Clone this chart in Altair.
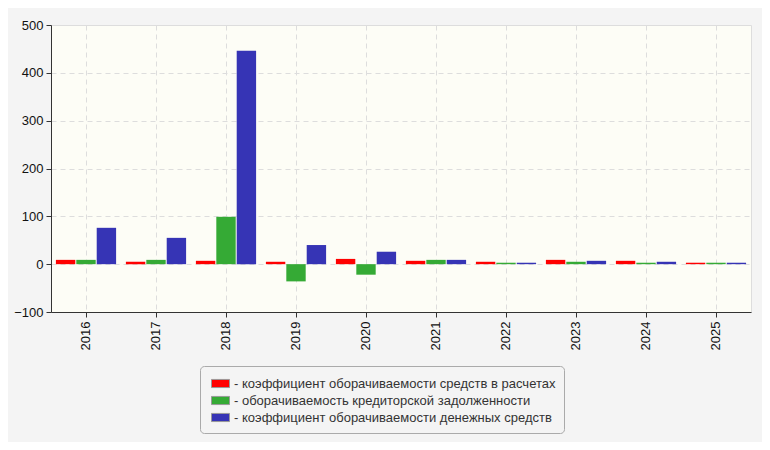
import altair as alt
import pandas as pd

years = ["2016", "2017", "2018", "2019", "2020", "2021", "2022", "2023", "2024", "2025"]
series = [
    "коэффициент оборачиваемости средств в расчетах",
    "оборачиваемость кредиторской задолженности",
    "коэффициент оборачиваемости денежных средств",
]
colors = ["#ff0000", "#35aa35", "#3634b5"]
s_red = [9, 5, 7, 5, 11, 7, 5, 9, 7, 3]
s_green = [9, 9, 99, -36, -22, 9, 3, 5, 3, 3]
s_blue = [76, 55, 446, 40, 26, 9, 3, 7, 5, 3]

rows = []
for name, vals in zip(series, [s_red, s_green, s_blue]):
    for y, v in zip(years, vals):
        rows.append({"year": y, "series": name, "value": v})
df = pd.DataFrame(rows)

FONT = "Liberation Sans"

chart = alt.Chart(df).mark_bar().encode(
    x=alt.X("year:N", sort=years, title=None,
            scale=alt.Scale(paddingInner=0.14, paddingOuter=0.07),
            axis=alt.Axis(labelAngle=270, bandPosition=0.5, grid=True,
                          gridDash=[5, 4], gridColor="#dddddd",
                          labelFont=FONT, labelFontSize=13, labelColor="#111111",
                          tickColor="#333333", domainColor="#333333",
                          tickSize=5, labelPadding=4)),
    xOffset=alt.XOffset("series:N", sort=series,
                        scale=alt.Scale(paddingInner=0.05)),
    y=alt.Y("value:Q", title=None,
            scale=alt.Scale(domain=[-100, 500], nice=False),
            axis=alt.Axis(values=[-100, 0, 100, 200, 300, 400, 500],
                          grid=True, gridDash=[5, 4], gridColor="#dddddd",
                          labelFont=FONT, labelFontSize=13, labelColor="#111111",
                          tickColor="#333333", domainColor="#333333",
                          tickSize=5, labelPadding=3)),
    color=alt.Color("series:N", sort=series,
                    scale=alt.Scale(domain=series, range=colors),
                    legend=alt.Legend(
                        title=None, orient="none", legendX=149, legendY=341,
                        labelExpr="'- ' + datum.label",
                        symbolType="M-1,-0.45H1V0.45H-1Z", symbolSize=324,
                        symbolStrokeColor="#999999", symbolStrokeWidth=1,
                        labelFont=FONT, labelFontSize=13, labelColor="#333333",
                        labelLimit=500, rowPadding=0, padding=8,
                        fillColor="#f4f4f4", strokeColor="#aaaaaa",
                        cornerRadius=4, symbolOffset=3, labelOffset=4)),
).properties(
    width=700, height=287,
    autosize=alt.AutoSizeParams(type="none"),
    padding={"left": 43, "top": 17, "right": 11, "bottom": 130},
).configure(
    background="#f4f4f4",
    font=FONT,
).configure_view(
    fill="#fdfdf6", stroke="#dddddd",
)

chart.save("out.html", embed_options={"renderer": "svg", "actions": False})
